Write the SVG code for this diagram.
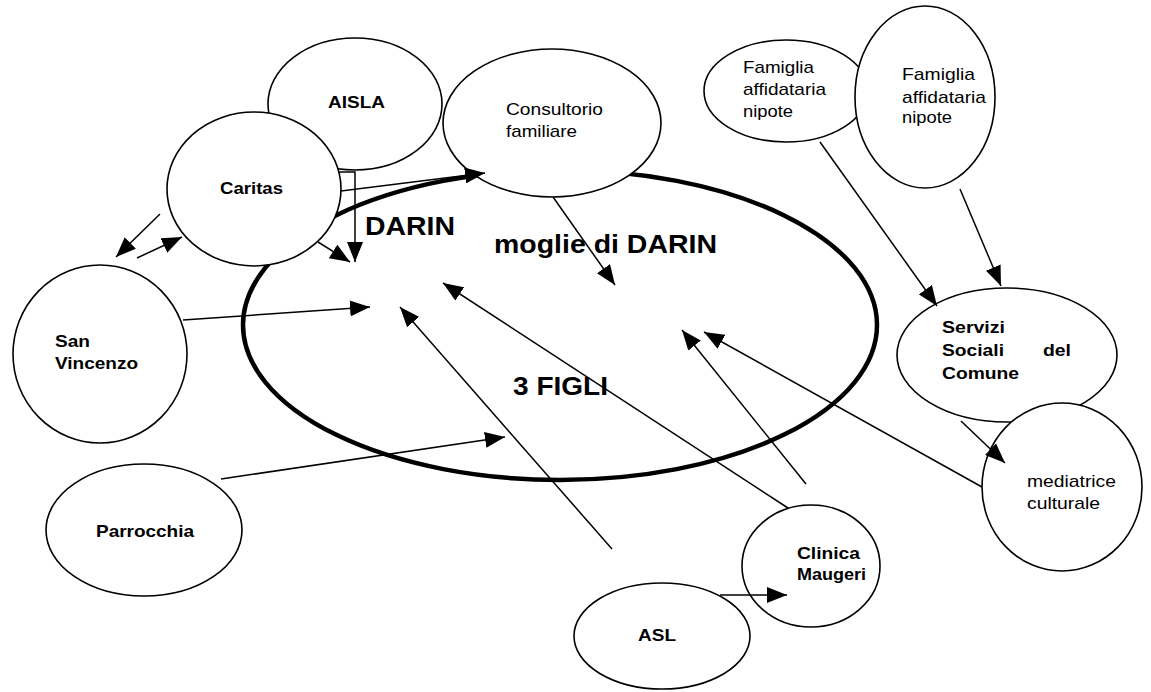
<svg xmlns="http://www.w3.org/2000/svg" width="1151" height="692" viewBox="0 0 1151 692">
<style>
.n{fill:#fff;stroke:#000;stroke-width:1.6}
.b{font-family:"Liberation Sans",Arial,sans-serif;font-weight:bold;font-size:17px;fill:#000}
.r{font-family:"Liberation Sans",Arial,sans-serif;font-size:17px;fill:#000}
.big{font-family:"Liberation Sans",Arial,sans-serif;font-weight:bold;font-size:26px;fill:#000}
.c{fill:none;stroke:#000;stroke-width:1.5;marker-end:url(#ah)}
</style>
<defs>
<marker id="ah" markerUnits="userSpaceOnUse" viewBox="0 0 20 16" refX="20" refY="8" markerWidth="20" markerHeight="16" orient="auto">
<path d="M0,0 L20,8 L0,16 z" fill="#000"/>
</marker>
</defs>
<rect width="1151" height="692" fill="#fff"/>
<g id="famiglia-darin">
<ellipse cx="560" cy="325" rx="317" ry="155" fill="none" stroke="#000" stroke-width="4.5"/>
<text class="big" x="365" y="235" textLength="90" lengthAdjust="spacingAndGlyphs">DARIN</text>
<text class="big" x="494" y="253" textLength="223" lengthAdjust="spacingAndGlyphs">moglie di DARIN</text>
<text class="big" x="513" y="395" textLength="95" lengthAdjust="spacingAndGlyphs">3 FIGLI</text>
</g>
<g id="aisla">
<ellipse class="n" cx="355" cy="104" rx="87" ry="66"/>
<text class="b" x="328" y="108" textLength="57" lengthAdjust="spacingAndGlyphs">AISLA</text>
</g>
<g id="caritas">
<ellipse class="n" cx="254" cy="189" rx="87" ry="77"/>
<text class="b" x="220" y="194" textLength="63" lengthAdjust="spacingAndGlyphs">Caritas</text>
</g>
<g id="consultorio">
<ellipse class="n" cx="552" cy="123" rx="109" ry="74"/>
<text class="r" x="506" y="115" textLength="97" lengthAdjust="spacingAndGlyphs">Consultorio</text>
<text class="r" x="506" y="137" textLength="71" lengthAdjust="spacingAndGlyphs">familiare</text>
</g>
<g id="famiglia-1">
<ellipse class="n" cx="786" cy="91" rx="82" ry="51"/>
<text class="r" x="743" y="73" textLength="71" lengthAdjust="spacingAndGlyphs">Famiglia</text>
<text class="r" x="743" y="95" textLength="83" lengthAdjust="spacingAndGlyphs">affidataria</text>
<text class="r" x="743" y="117" textLength="50" lengthAdjust="spacingAndGlyphs">nipote</text>
</g>
<g id="famiglia-2">
<ellipse class="n" cx="925" cy="97" rx="70" ry="91"/>
<text class="r" x="902" y="80" textLength="73" lengthAdjust="spacingAndGlyphs">Famiglia</text>
<text class="r" x="902" y="103" textLength="84" lengthAdjust="spacingAndGlyphs">affidataria</text>
<text class="r" x="902" y="123" textLength="50" lengthAdjust="spacingAndGlyphs">nipote</text>
</g>
<g id="servizi">
<ellipse class="n" cx="1007" cy="355" rx="110" ry="67"/>
<text class="b" x="942" y="333" textLength="63" lengthAdjust="spacingAndGlyphs">Servizi</text>
<text class="b" x="942" y="356" textLength="62" lengthAdjust="spacingAndGlyphs">Sociali</text>
<text class="b" x="1043" y="356" textLength="28" lengthAdjust="spacingAndGlyphs">del</text>
<text class="b" x="942" y="379" textLength="77" lengthAdjust="spacingAndGlyphs">Comune</text>
</g>
<g id="mediatrice">
<ellipse class="n" cx="1062" cy="487" rx="80" ry="84"/>
<text class="r" x="1027" y="487" textLength="89" lengthAdjust="spacingAndGlyphs">mediatrice</text>
<text class="r" x="1027" y="509" textLength="73" lengthAdjust="spacingAndGlyphs">culturale</text>
</g>
<g id="san-vincenzo">
<ellipse class="n" cx="100" cy="354" rx="87" ry="89"/>
<text class="b" x="55" y="347" textLength="35" lengthAdjust="spacingAndGlyphs">San</text>
<text class="b" x="55" y="369" textLength="83" lengthAdjust="spacingAndGlyphs">Vincenzo</text>
</g>
<g id="parrocchia">
<ellipse class="n" cx="144" cy="530" rx="98" ry="66"/>
<text class="b" x="96" y="537" textLength="98" lengthAdjust="spacingAndGlyphs">Parrocchia</text>
</g>
<g id="clinica">
<ellipse class="n" cx="811" cy="566" rx="69" ry="61"/>
<text class="b" x="797" y="559" textLength="63" lengthAdjust="spacingAndGlyphs">Clinica</text>
<text class="b" x="797" y="580" textLength="69" lengthAdjust="spacingAndGlyphs">Maugeri</text>
</g>
<g id="asl">
<ellipse class="n" cx="662" cy="636" rx="88" ry="53"/>
<text class="b" x="638" y="641" textLength="38" lengthAdjust="spacingAndGlyphs">ASL</text>
</g>
<g id="connectors">
<line class="c" x1="160" y1="214" x2="116" y2="257"/>
<line class="c" x1="137" y1="258" x2="182" y2="237"/>
<line class="c" x1="318" y1="242" x2="350" y2="262"/>
<polyline class="c" points="338,172 355,172 355,262"/>
<line class="c" x1="341" y1="191" x2="485" y2="173"/>
<line class="c" x1="553" y1="197" x2="615" y2="285"/>
<line class="c" x1="820" y1="142" x2="937" y2="306"/>
<line class="c" x1="960" y1="189" x2="1001" y2="286"/>
<line class="c" x1="961" y1="421" x2="1005" y2="463"/>
<line class="c" x1="982" y1="487" x2="704" y2="332"/>
<line class="c" x1="806" y1="484" x2="682" y2="330"/>
<line class="c" x1="788" y1="508" x2="443" y2="283"/>
<line class="c" x1="612" y1="549" x2="400" y2="307"/>
<line class="c" x1="720" y1="595" x2="787" y2="595"/>
<line class="c" x1="183" y1="320" x2="370" y2="307"/>
<line class="c" x1="221" y1="479" x2="505" y2="437"/>
</g>
</svg>
